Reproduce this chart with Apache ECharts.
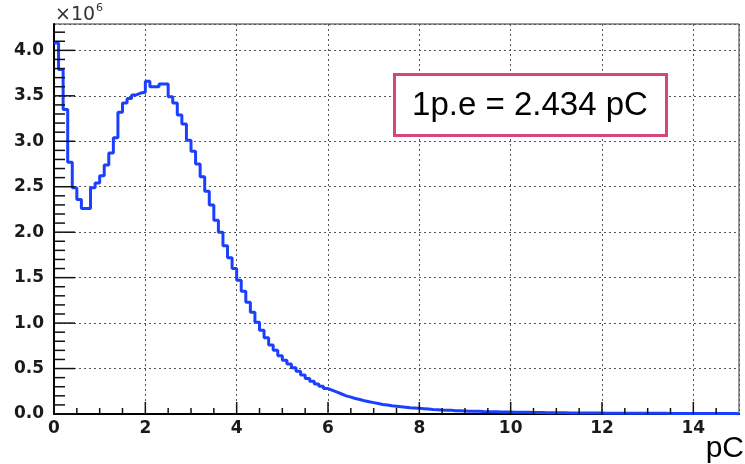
<!DOCTYPE html>
<html><head><meta charset="utf-8">
<script src="https://cdn.jsdelivr.net/npm/echarts@6/dist/echarts.min.js"></script>
<style>html,body{margin:0;padding:0;background:#fff}#c{width:745px;height:464px}</style>
</head><body><div id="c"></div>
<script>
// Histogram: 150 bins of 0.1 pC from 0 to 15 pC, counts in units of 1e6
const BIN_WIDTH = 0.1;
const counts0to5 = [
  4.08, 3.79, 3.35, 2.77, 2.49, 2.36, 2.26, 2.26, 2.49, 2.54,
  2.62, 2.74, 2.87, 3.04, 3.32, 3.42, 3.47, 3.51, 3.53, 3.54,
  3.66, 3.60, 3.60, 3.63, 3.63, 3.49, 3.42, 3.29, 3.19, 3.01,
  2.89, 2.75, 2.61, 2.45, 2.30, 2.13, 2.00, 1.85, 1.72, 1.60,
  1.47, 1.35, 1.23, 1.12, 1.01, 0.92, 0.84, 0.76, 0.70, 0.64
];
const counts5to10 = [
  0.59, 0.55, 0.51, 0.47, 0.43, 0.39, 0.36, 0.33, 0.305, 0.28,
  0.26, 0.24, 0.22, 0.20, 0.185, 0.17, 0.16, 0.145, 0.135, 0.125,
  0.115, 0.105, 0.098, 0.09, 0.085, 0.08, 0.075, 0.07, 0.066, 0.062,
  0.058, 0.054, 0.05, 0.047, 0.044, 0.042, 0.04, 0.037, 0.035, 0.033,
  0.031, 0.03, 0.029, 0.027, 0.026, 0.025, 0.024, 0.023, 0.022, 0.021
];
const counts10to15 = [
  0.02, 0.019, 0.019, 0.018, 0.017, 0.017, 0.016, 0.015, 0.015, 0.014,
  0.013, 0.013, 0.012, 0.012, 0.011, 0.011, 0.011, 0.010, 0.010, 0.010,
  0.009, 0.009, 0.009, 0.009, 0.008, 0.008, 0.008, 0.008, 0.008, 0.007,
  0.007, 0.007, 0.007, 0.007, 0.006, 0.006, 0.006, 0.006, 0.006, 0.006,
  0.005, 0.005, 0.005, 0.005, 0.005, 0.005, 0.005, 0.005, 0.005, 0.004
];
const xRange = [0, 15];
const yRange = [0, 4.29];
const xMajorStep = 2, xMinorStep = 0.5;
const yMajorStep = 0.5, yMinorStep = 0.1;
const annotationText = '1p.e = 2.434 pC';
const xAxisTitle = 'pC';
const yExponentBase = '×10';
const yExponentPower = '6';

const counts = counts0to5.concat(counts5to10, counts10to15);
const points = counts.map((v, i) => [+(xRange[0] + i * BIN_WIDTH).toFixed(2), v]);
points.push([xRange[1], counts[counts.length - 1]]);

const labelFont = {fontFamily: 'DejaVu Sans', fontWeight: 'bold', fontSize: 17, color: '#1a1a1a'};
const gridLine = {show: true, lineStyle: {color: '#555', type: [2, 3], width: 1}};

const staticGraphics = [
  {type: 'rect', z: 100, shape: {x: 394.5, y: 74.5, width: 272, height: 61},
   style: {fill: '#fff', stroke: '#d4467c', lineWidth: 3}},
  {type: 'text', z: 101, x: 530, y: 106,
   style: {text: annotationText, fontFamily: 'Liberation Sans', fontSize: 33, fill: '#000', align: 'center', verticalAlign: 'middle'}},
  {type: 'text', z: 101, x: 744, y: 449,
   style: {text: xAxisTitle, fontFamily: 'Liberation Sans', fontSize: 30, fill: '#000', align: 'right', verticalAlign: 'middle'}},
  {type: 'text', z: 101, x: 55, y: 15,
   style: {text: yExponentBase, fontFamily: 'DejaVu Sans', fontSize: 19, fill: '#333', align: 'left', verticalAlign: 'middle'}},
  {type: 'text', z: 101, x: 96, y: 8,
   style: {text: yExponentPower, fontFamily: 'DejaVu Sans', fontSize: 11, fill: '#333', align: 'left', verticalAlign: 'middle'}}
];

const chart = echarts.init(document.getElementById('c'));
chart.setOption({
  animation: false,
  backgroundColor: '#fff',
  grid: {left: 54, right: 6, top: 24, bottom: 50, show: true, borderColor: '#333', borderWidth: 1, backgroundColor: 'transparent'},
  xAxis: {type: 'value', min: xRange[0], max: xRange[1], interval: xMajorStep,
    axisLine: {show: true, onZero: false, lineStyle: {color: '#000', width: 2}},
    axisTick: {show: false},
    axisLabel: Object.assign({margin: 6, showMaxLabel: false, formatter: v => String(v)}, labelFont),
    splitLine: gridLine},
  yAxis: {type: 'value', min: yRange[0], max: yRange[1], interval: yMajorStep,
    axisLine: {show: true, onZero: false, lineStyle: {color: '#000', width: 2}},
    axisTick: {show: false},
    axisLabel: Object.assign({margin: 10, showMaxLabel: false, formatter: v => v.toFixed(1)}, labelFont),
    splitLine: gridLine},
  series: [{
    type: 'line', step: 'end', data: points,
    showSymbol: false, clip: true, z: 5,
    lineStyle: {color: '#1a3fff', width: 3},
    itemStyle: {color: '#1a3fff'}
  }],
  graphic: staticGraphics
});

// Inward ROOT-style ticks, positioned through the chart's own axis scales
const tickStyle = {stroke: '#111', lineWidth: 1.5};
const tickEls = [];
const px = (x, y) => chart.convertToPixel({gridIndex: 0}, [x, y]);
const nX = Math.round((xRange[1] - xRange[0]) / xMinorStep);
for (let k = 0; k < nX; k++) {
  const xv = xRange[0] + k * xMinorStep;
  const major = Math.abs(xv / xMajorStep - Math.round(xv / xMajorStep)) < 1e-9;
  const p = px(xv, yRange[0]);
  const len = major ? 12 : 6;
  tickEls.push({type: 'line', z: 50, shape: {x1: p[0], y1: p[1], x2: p[0], y2: p[1] - len}, style: tickStyle});
}
const nY = Math.floor((yRange[1] - yRange[0]) / yMinorStep + 1e-9);
for (let k = 0; k <= nY; k++) {
  const yv = +(yRange[0] + k * yMinorStep).toFixed(2);
  const major = Math.abs(yv / yMajorStep - Math.round(yv / yMajorStep)) < 1e-9;
  const p = px(xRange[0], yv);
  const len = major ? 21 : 11;
  tickEls.push({type: 'line', z: 50, shape: {x1: p[0], y1: p[1], x2: p[0] + len, y2: p[1]}, style: tickStyle});
}
chart.setOption({graphic: staticGraphics.concat(tickEls)}, {replaceMerge: ['graphic']});
</script>
</body></html>
